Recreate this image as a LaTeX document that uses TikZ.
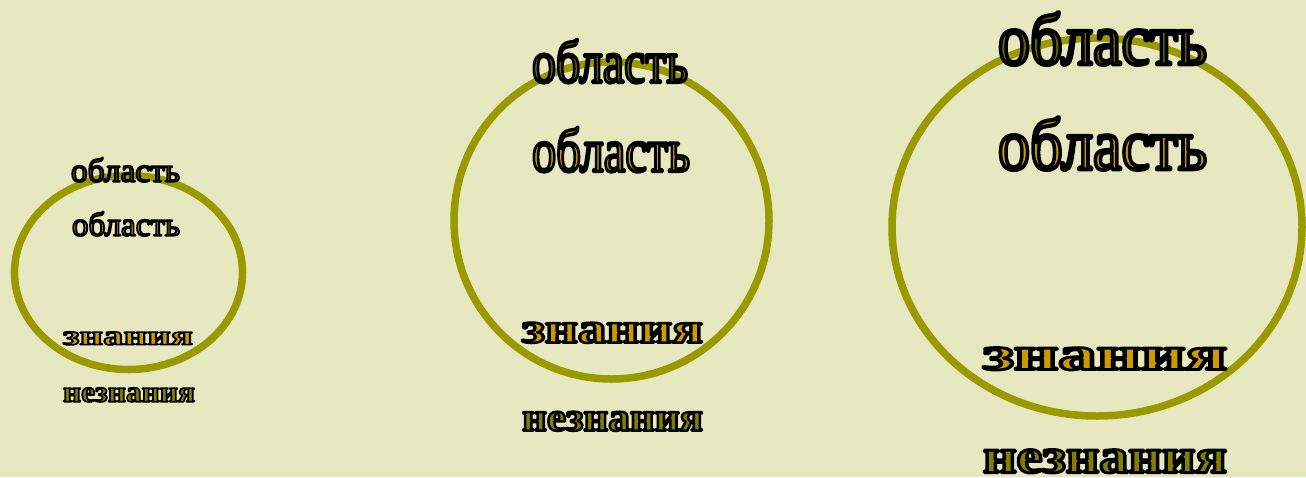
\documentclass[tikz,border=0pt]{standalone}
\usepackage{fontspec}
\setmainfont{Liberation Serif}
\usepackage{graphicx}
\definecolor{bg}{HTML}{E8E8C0}
\definecolor{ringc}{HTML}{999900}
\definecolor{olivefill}{HTML}{666600}
\definecolor{olivefillb}{HTML}{808000}
\definecolor{goldfill}{HTML}{CC9900}
% WordArt-like outlined, stretched text: #1 fill, #2 width, #3 height, #4 line width, #5 text
\newcommand\wordart[5]{\resizebox{#2pt}{#3pt}{\fontsize{20}{20}\selectfont\color{#1}\special{pdf:literal direct 0 0 0 RG #4 w 1 j 2 Tr}#5\special{pdf:literal direct 0 Tr}}}
\newcommand\wordartb[5]{\wordart{#1}{#2}{#3}{#4}{\bfseries #5}}
\tikzset{
  ring/.style={draw=ringc, line width=7.5pt},
  wa/.style={anchor=south west, inner sep=0pt, outer sep=0pt}
}
\begin{document}
\begin{tikzpicture}[x=1pt,y=-1pt]
\fill[bg] (0,0) rectangle (1306,477);
\useasboundingbox (0,0) rectangle (1306,477);
% rings
\draw[ring] (128.5,272.5) ellipse [x radius=114pt, y radius=97pt];
\draw[ring] (611.5,220.5) ellipse [x radius=157.5pt, y radius=158.5pt];
\draw[ring] (1097,227) ellipse [x radius=205pt, y radius=189pt];
% small group
\node[wa] (s1) at (71,182) {\wordart{olivefill}{109}{24}{1.15}{область}};
\node[wa] (s2) at (72,236) {\wordart{goldfill}{108}{24}{1.15}{область}};
\node[wa] (s3) at (63,345) {\wordartb{goldfill}{130}{13}{1.1}{знания}};
\node[wa] (s4) at (63,402) {\wordartb{olivefillb}{132}{14}{1.1}{незнания}};
% medium group
\node[wa] (m1) at (532,83) {\wordart{olivefill}{156}{43}{1.1}{область}};
\node[wa] (m2) at (532,172) {\wordart{goldfill}{158}{44}{1.1}{область}};
\node[wa] (m3) at (522,343) {\wordartb{goldfill}{181}{20}{1.2}{знания}};
\node[wa] (m4) at (522,431) {\wordartb{olivefillb}{181}{19}{1.2}{незнания}};
% large group
\node[wa] (l1) at (998,65) {\wordart{olivefill}{209}{52}{1.1}{область}};
\node[wa] (l2) at (998,170) {\wordart{goldfill}{209}{52}{1.1}{область}};
\node[wa] (l3) at (983,370) {\wordartb{goldfill}{244}{22}{1.2}{знания}};
\node[wa] (l4) at (983,473) {\wordartb{olivefillb}{244}{23}{1.2}{незнания}};
\end{tikzpicture}
\end{document}
